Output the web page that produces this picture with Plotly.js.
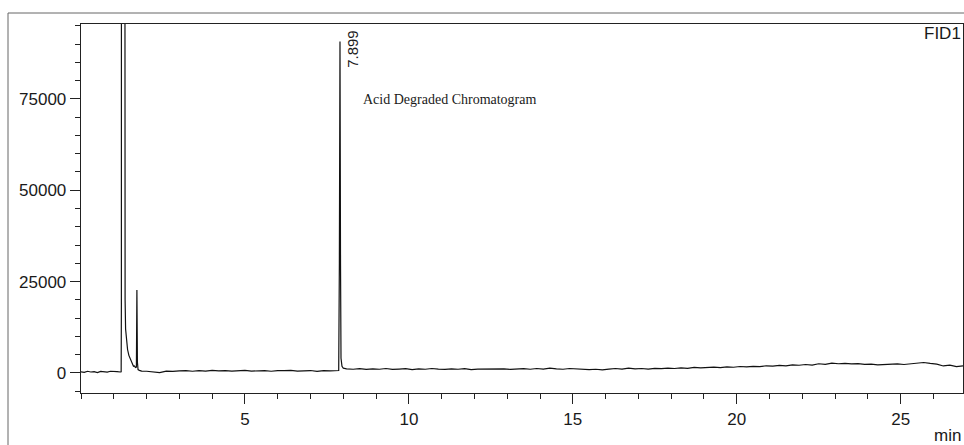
<!DOCTYPE html>
<html>
<head>
<meta charset="utf-8">
<script src="https://cdn.plot.ly/plotly-3.0.1.min.js"></script>
<style>
html,body{margin:0;padding:0;background:#fff;}
#chart{width:964px;height:445px;}
</style>
</head>
<body>
<div id="chart"></div>
<script>
// Retention time (min)
var timeMin = [
  0.0,0.1,0.2,0.3,0.4,0.5,0.6,0.7,0.8,0.9,1.0,1.1,1.2,
  1.225,1.232,1.236,1.325,1.333,1.345,1.36,1.39,1.42,1.46,1.5,1.55,1.6,1.63,1.66,1.69,1.705,1.72,1.74,1.78,1.85,
  2.0,2.2,2.4,2.6,2.8,3.0,3.2,3.4,3.6,3.8,4.0,4.2,4.4,4.6,4.8,5.0,5.2,5.4,5.6,5.8,6.0,6.2,6.4,6.6,6.8,7.0,7.2,7.4,7.6,7.8,7.86,
  7.88,7.899,7.915,7.93,7.96,8.0,8.1,
  8.3,8.5,8.7,8.9,9.1,9.3,9.5,9.7,9.9,10.1,10.3,10.5,10.7,10.9,11.1,11.3,11.5,11.7,11.9,12.1,12.3,12.5,12.7,
  12.9,13.1,13.3,13.5,13.7,13.9,14.1,14.3,14.5,14.7,14.9,15.1,15.3,15.5,15.7,15.9,16.1,16.3,16.5,16.7,16.9,
  17.1,17.3,17.5,17.7,17.9,18.1,18.3,18.5,18.7,18.9,19.1,19.3,19.5,19.7,19.9,20.1,20.3,20.5,20.7,20.9,
  21.1,21.3,21.5,21.7,21.9,22.1,22.3,22.5,22.7,22.9,23.1,23.3,23.5,23.7,23.9,24.1,24.3,24.5,24.7,24.9,
  25.1,25.3,25.5,25.7,25.9,26.1,26.3,26.5,26.7,26.9
];
// FID signal
var signal = [
  300,150,450,250,350,100,400,300,200,450,300,350,250,
  300,19000,400000,400000,60000,20000,12000,8500,6400,4800,3800,2900,1800,1900,1500,1600,22700,3000,900,700,500,
  450,350,100,500,400,550,650,450,600,500,700,550,650,500,600,700,500,650,600,450,650,600,700,500,600,650,400,600,550,600,650,
  30000,90700,30000,4000,1800,1300,1100,
  1000,1150,950,1100,1000,1200,950,1050,1150,900,1100,1000,1200,1050,950,1100,1000,1150,900,1050,1100,950,1100,
  1100,950,1050,1150,1000,1200,1050,1300,1100,1000,1200,1050,950,900,1000,850,1050,1200,1050,1300,1100,
  1200,1050,1250,1150,1300,1200,1400,1250,1500,1350,1450,1600,1450,1650,1550,1750,1650,1800,1700,1950,
  1850,2050,1950,2200,2100,2300,2150,2500,2350,2700,2500,2600,2450,2550,2350,2400,2200,2350,2300,2450,
  2300,2550,2750,2850,2600,2400,1900,2100,1700,1900
];
var peakTime = [7.899];
var peakLabel = ["7.899"];
var xTickVals = [5,10,15,20,25];
var yTickVals = [0,25000,50000,75000];

var font = "Liberation Sans, Arial, sans-serif";

var trace = {
  x: timeMin, y: signal, type: 'scatter', mode: 'lines',
  line: {color: '#111', width: 1.2}, hoverinfo: 'skip', showlegend: false
};

// pixel helpers for decorations
var L = 81, R = 963, T = 24, B = 393;
function px(xp){ return (xp - L)/(R - L); }
function py(yp){ return (B - yp)/(B - T); }

var layout = {
  width: 964, height: 445,
  margin: {l: L, r: 964 - R, t: T, b: 445 - B, pad: 0},
  paper_bgcolor: '#fff', plot_bgcolor: '#fff',
  font: {family: font, size: 17, color: '#1a1a1a'},
  showlegend: false,
  xaxis: {
    range: [0, 26.9], showgrid: false, zeroline: false,
    showline: true, linecolor: '#222', linewidth: 1.3, mirror: true,
    ticks: 'outside', ticklen: 10, tickwidth: 1, tickcolor: '#222',
    tickvals: xTickVals, ticktext: xTickVals.map(String),
    tickfont: {family: font, size: 17, color: '#1a1a1a'},
    minor: {dtick: 1, ticks: 'outside', ticklen: 5, tickcolor: '#222', showgrid: false}
  },
  yaxis: {
    range: [-5500, 95500], showgrid: false, zeroline: false,
    showline: true, linecolor: '#222', linewidth: 1.3, mirror: true,
    ticks: 'outside', ticklen: 10, tickwidth: 1, tickcolor: '#222',
    tickvals: yTickVals, ticktext: yTickVals.map(String),
    tickfont: {family: font, size: 17, color: '#1a1a1a'},
    minor: {dtick: 5000, ticks: 'outside', ticklen: 5, tickcolor: '#222', showgrid: false}
  },
  shapes: [
    {type: 'line', xref: 'paper', yref: 'paper', x0: px(8), x1: px(964), y0: py(13), y1: py(13), line: {color: '#666', width: 1}},
    {type: 'line', xref: 'paper', yref: 'paper', x0: px(8), x1: px(8), y0: py(13), y1: py(446), line: {color: '#666', width: 1}}
  ],
  annotations: [
    {x: peakTime[0], y: 88700, xref: 'x', yref: 'y', text: peakLabel[0], textangle: -90,
     showarrow: false, xshift: 13, font: {family: font, size: 15, color: '#1a1a1a'}},
    {x: 8.53, y: 74800, xref: 'x', yref: 'y', xanchor: 'left', yanchor: 'middle',
     text: 'Acid Degraded Chromatogram', showarrow: false,
     font: {family: 'Liberation Serif, Times New Roman, serif', size: 14, color: '#1a1a1a'}},
    {x: 1, y: py(33), xref: 'paper', yref: 'paper', xanchor: 'right', yanchor: 'middle',
     text: 'FID1', showarrow: false, font: {family: font, size: 17, color: '#1a1a1a'}},
    {x: 1, y: py(435), xref: 'paper', yref: 'paper', xanchor: 'right', yanchor: 'middle',
     text: 'min', showarrow: false, font: {family: font, size: 17, color: '#1a1a1a'}}
  ]
};

Plotly.newPlot('chart', [trace], layout, {staticPlot: true, displayModeBar: false});
</script>
</body>
</html>
